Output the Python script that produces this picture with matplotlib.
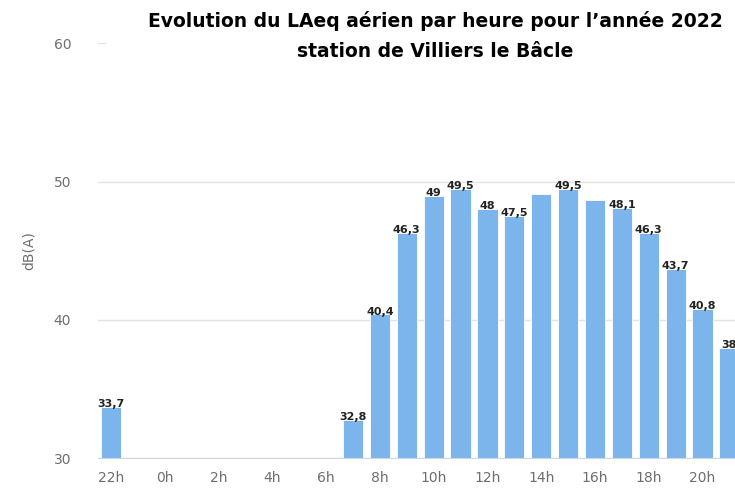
import matplotlib.pyplot as plt

# hourly LAeq (aircraft), 2022 - Villiers le Bacle
HOURS = ["22h", "23h"] + ["%dh" % h for h in range(0, 22)]
LAEQ = [33.7, None, None, None, None, None, None, None, None, 32.8,
        40.4, 46.3, 49.0, 49.5, 48.0, 47.5, 49.1, 49.5, 48.7, 48.1,
        46.3, 43.7, 40.8, 38.0]
# labels shown on the chart (some bars have none)
SHOW_LABEL = [True] * 16 + [False, True, False] + [True] * 5
YTICKS = [30, 40, 50, 60]

BAR_COLOR = "#7cb5ec"
GRID_COLOR = "#e3e3e3"
TEXT_GRAY = "#6e6e6e"


def fmt(v):
    s = "%.1f" % v
    if s.endswith(".0"):
        s = s[:-2]
    return s.replace(".", ",")


fig = plt.figure(figsize=(7.35, 4.92), dpi=100)
ax = fig.add_axes([0.1327, 0.0685, 0.878, 0.8433])

xs = [i for i, v in enumerate(LAEQ) if v is not None]
vals = [v for v in LAEQ if v is not None]
bars = ax.bar(xs, [v - 30 for v in vals], bottom=30, width=0.75,
              color=BAR_COLOR, edgecolor="white", linewidth=0.6, zorder=3)

for x, v in zip(xs, vals):
    if SHOW_LABEL[x]:
        ax.text(x, v - 0.15, fmt(v), ha="center", va="bottom", fontsize=8,
                fontweight="bold", color="#222222", zorder=4)

ax.set_xlim(-0.5, len(HOURS) - 0.5)
ax.set_ylim(30, 60)
ax.set_yticks(YTICKS)
ax.set_xticks(range(0, len(HOURS), 2))
ax.set_xticklabels(HOURS[::2])
ax.tick_params(axis="both", length=0, labelsize=10, colors=TEXT_GRAY)
ax.tick_params(axis="x", pad=9)
ax.tick_params(axis="y", pad=19)
ax.grid(axis="y", color=GRID_COLOR, linewidth=1, zorder=0)
for s in ["top", "right", "left"]:
    ax.spines[s].set_visible(False)
ax.spines["bottom"].set_color("#ccd6eb")
ax.spines["bottom"].set_zorder(5)
ax.set_ylabel("dB(A)", color=TEXT_GRAY, fontsize=10, labelpad=13)

fig.text(0.592, 0.927, "Evolution du LAeq aérien par heure pour l’année 2022\n"
         "station de Villiers le Bâcle", ha="center", va="center",
         fontsize=13.5, fontweight="bold", linespacing=1.75, color="black",
         bbox=dict(facecolor="white", edgecolor="none", pad=30))

fig.savefig("out.png", dpi=100)
